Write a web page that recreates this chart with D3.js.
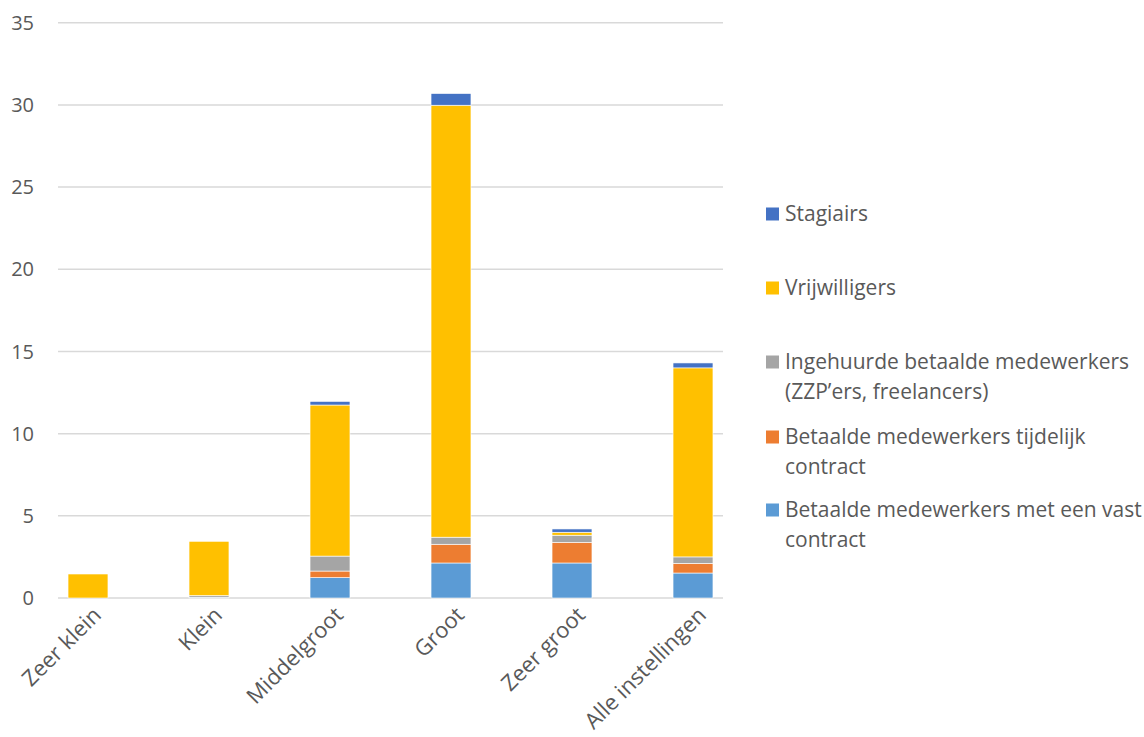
<!DOCTYPE html>
<html>
<head>
<meta charset="utf-8">
<script src="https://cdn.jsdelivr.net/npm/d3@7"></script>
<style>
  html, body { margin: 0; padding: 0; background: #fff; }
  text { font-family: "Open Sans", "Noto Sans", sans-serif; fill: #595959; }
</style>
</head>
<body>
<div id="chart"></div>
<script>
const categories = ['Zeer klein', 'Klein', 'Middelgroot', 'Groot', 'Zeer groot', 'Alle instellingen'];

// series, bottom to top
const vast       = [0,    0.05, 1.24, 2.13, 2.13, 1.52];
const tijdelijk  = [0,    0,    0.40, 1.14, 1.26, 0.59];
const ingehuurd  = [0,    0.10, 0.91, 0.43, 0.43, 0.39];
const vrijwillig = [1.46, 3.30, 9.19, 26.28, 0.18, 11.5];
const stagiairs  = [0,    0,    0.22, 0.71, 0.20, 0.30];

const seriesNames = [
    ['Betaalde medewerkers met een vast', 'contract'],
    ['Betaalde medewerkers tijdelijk', 'contract'],
    ['Ingehuurde betaalde medewerkers', '(ZZP\u2019ers, freelancers)'],
    ['Vrijwilligers'],
    ['Stagiairs']
];
const yTicks = [0, 5, 10, 15, 20, 25, 30, 35];

const colors = ['#5B9BD5', '#ED7D31', '#A5A5A5', '#FFC000', '#4472C4'];
const values = [vast, tijdelijk, ingehuurd, vrijwillig, stagiairs];

const rows = categories.map((c, i) => {
    const r = {cat: c};
    values.forEach((v, k) => r['s' + k] = v[i]);
    return r;
});
const keys = values.map((v, k) => 's' + k);
const stacked = d3.stack().keys(keys)(rows);

const W = 1144, H = 737;
const svg = d3.select('#chart').append('svg').attr('width', W).attr('height', H);

const gridLeft = 58, gridRight = 723;
const y = d3.scaleLinear().domain([0, 35]).range([598, 22.7]);
const x = d3.scaleBand().domain(categories).range([27.5, 753.5]).paddingInner(0.67).paddingOuter(0.335);

// gridlines
svg.append('g').selectAll('line')
    .data(yTicks)
    .enter().append('line')
    .attr('x1', gridLeft).attr('x2', gridRight)
    .attr('y1', d => y(d)).attr('y2', d => y(d))
    .attr('stroke', '#d9d9d9')
    .attr('stroke-width', 1.5);

// y labels
svg.append('g').selectAll('text')
    .data(yTicks)
    .enter().append('text')
    .attr('x', 34)
    .attr('y', d => y(d))
    .attr('dy', '0.36em')
    .attr('text-anchor', 'end')
    .style('font-size', '20px')
    .text(d => d);

// bars
stacked.forEach((layer, k) => {
    svg.append('g')
        .attr('fill', colors[k])
        .selectAll('rect')
        .data(layer)
        .enter().append('rect')
        .attr('x', d => x(d.data.cat))
        .attr('width', x.bandwidth())
        .attr('y', d => y(d[1]))
        .attr('height', d => Math.max(0, y(d[0]) - y(d[1])))
        .attr('stroke', '#fff')
        .attr('stroke-width', 0.6);
});

// x labels
svg.append('g').selectAll('text')
    .data(categories)
    .enter().append('text')
    .attr('transform', d => 'translate(' + (x(d) + x.bandwidth() / 2 + 9) + ',611) rotate(-45)')
    .attr('text-anchor', 'end')
    .attr('dy', '0.35em')
    .style('font-size', '22px')
    .text(d => d);

// legend (top to bottom: reverse order)
const legendY = [214, 288, 362, 437, 510];
const legendOrder = [4, 3, 2, 1, 0];
const legend = svg.append('g');
legendOrder.forEach((k, i) => {
    const g = legend.append('g').attr('transform', 'translate(766,' + legendY[i] + ')');
    g.append('rect').attr('x', 0).attr('y', -6.5).attr('width', 13).attr('height', 13).attr('fill', colors[k]);
    g.selectAll('text')
        .data(seriesNames[k])
        .enter().append('text')
        .attr('x', 19)
        .attr('y', (d, j) => j * 30)
        .attr('dy', '0.35em')
        .style('font-size', '21px')
        .text(d => d);
});
</script>
</body>
</html>
